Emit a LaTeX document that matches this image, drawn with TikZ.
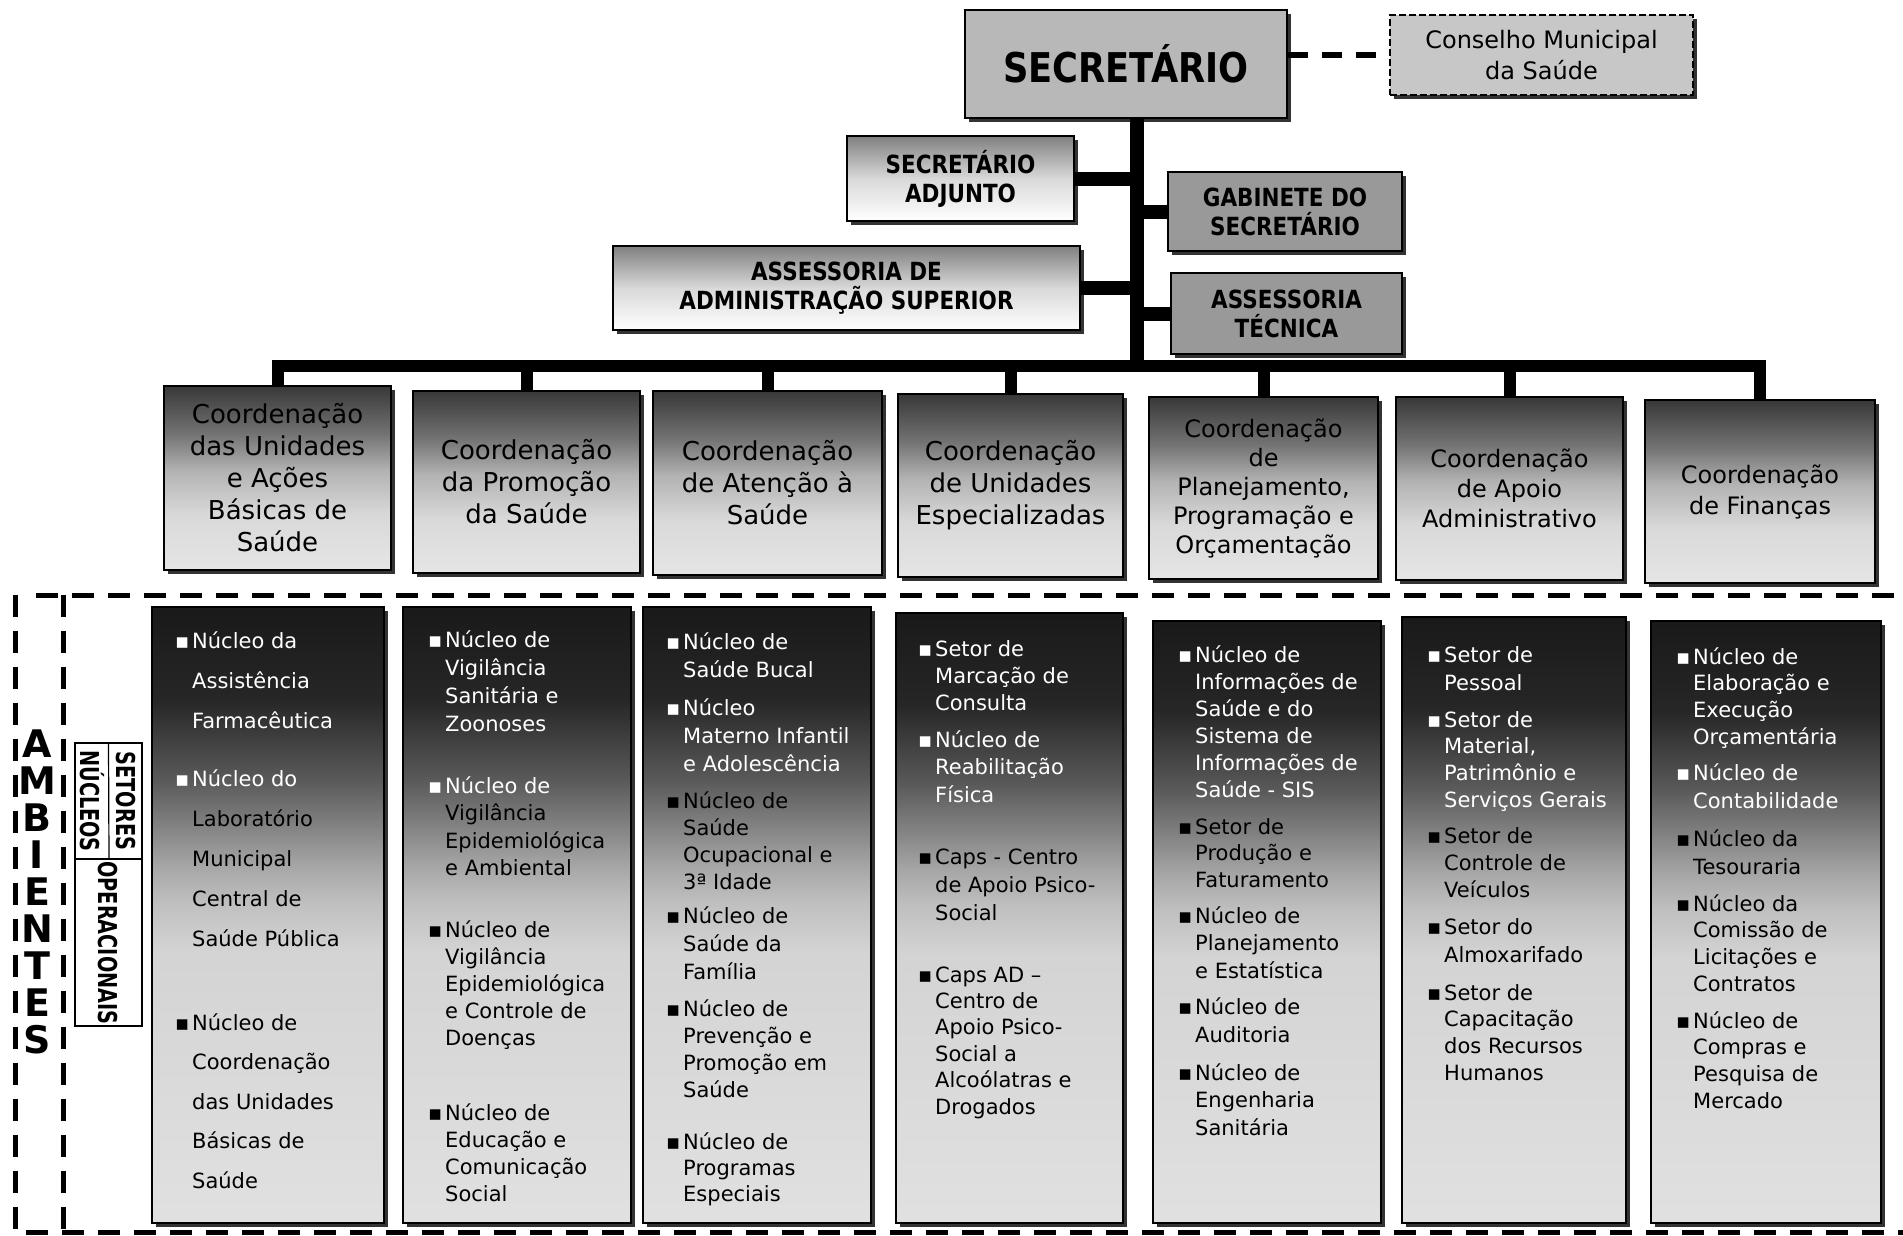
\documentclass[tikz,border=0pt]{standalone}
\usepackage{fontspec}
\setmainfont{DejaVu Sans}
\newfontfamily\cnd[FakeStretch=0.86]{DejaVu Sans}
\newfontfamily\cndx[FakeStretch=0.74]{DejaVu Sans}
\usetikzlibrary{shadows}

% TikZ maps a path onto the 25bp..75bp band of a 100bp shading
\pgfdeclareverticalshading{lowgrad}{100bp}{color(0bp)=(black!12); color(25bp)=(black!12); color(47bp)=(black!17); color(51bp)=(black!25); color(54bp)=(black!35); color(57bp)=(black!48); color(61bp)=(black!65); color(67.5bp)=(black!85); color(75bp)=(black!90); color(100bp)=(black!90)}
\pgfdeclareverticalshading{midgrad}{100bp}{color(0bp)=(black!10); color(25bp)=(black!10); color(40bp)=(black!15); color(52bp)=(black!30); color(62bp)=(black!55); color(75bp)=(black!78); color(100bp)=(black!78)}
\pgfdeclareverticalshading{topgrad}{100bp}{color(0bp)=(white); color(25bp)=(white); color(50bp)=(black!15); color(75bp)=(black!50); color(100bp)=(black!50)}

\newcommand\F[1]{\hbox{\makebox[17pt][l]{▪}#1}}
\newcommand\G[1]{\hbox{\hskip17pt #1}}
\newcommand\Gk[1]{\hbox{\hskip17pt \color{black}#1}}
\newcommand\VB[2]{\vtop{\baselineskip=#1pt\relax #2}}
\newcommand\VL[1]{\hbox to 44pt{\hfil #1\hfil}}

\tikzset{
  box/.style={draw=black, line width=1.6pt, inner sep=0pt, align=center,
    drop shadow={shadow xshift=4pt, shadow yshift=-4pt, opacity=1, fill=black!80}},
  lowbox/.style={box, shade, shading=lowgrad},
  midbox/.style={box, shade, shading=midgrad, font=\fontsize{26}{32}\selectfont},
  headbox/.style={box, font=\cnd\bfseries\fontsize{25}{29}\selectfont},
  trunk/.style={line width=14pt, black},
  busline/.style={line width=12pt, black, line join=miter},
  dashlink/.style={line width=6pt, dash pattern=on 20pt off 14pt},
  region/.style={line width=5pt, dash pattern=on 22pt off 14pt},
  it/.style={anchor=base west, inner sep=0pt, font=\fontsize{21}{27}\selectfont},
  itw/.style={it, text=white},
}

\begin{document}
\begin{tikzpicture}[x=1pt,y=-1pt]
\fill[white] (0,0) rectangle (1903,1236);
\useasboundingbox (0,0) rectangle (1903,1236);

% ---------- top level ----------
\node[box, fill=black!28, minimum width=322pt, minimum height=108pt,
      font=\cnd\bfseries\fontsize{41}{44}\selectfont] (sec) at (1126,64) {SECRETÁRIO};
\node[box, fill=black!22, dash pattern=on 7pt off 3pt, minimum width=303pt, minimum height=80pt,
      font=\fontsize{24}{31}\selectfont] (cons) at (1541.5,55) {Conselho Municipal\\da Saúde};
\node[headbox, shade, shading=topgrad, minimum width=227pt, minimum height=85pt] (adj) at (960.5,178.5) {SECRETÁRIO\\ADJUNTO};
\node[headbox, fill=black!40, minimum width=234pt, minimum height=79pt] (gab) at (1285,211.5) {GABINETE DO\\SECRETÁRIO};
\node[headbox, shade, shading=topgrad, minimum width=467pt, minimum height=84pt] (adm) at (846.5,288) {ASSESSORIA DE\\ADMINISTRAÇÃO SUPERIOR};
\node[headbox, fill=black!40, minimum width=231pt, minimum height=81pt] (tec) at (1286.5,313.5) {ASSESSORIA\\TÉCNICA};

% ---------- coordinations ----------
\node[midbox, minimum width=227pt, minimum height=184pt] (k1) at (277.5,478) {Coordenação\\das Unidades\\e Ações\\Básicas de\\Saúde};
\node[midbox, minimum width=227pt, minimum height=182pt] (k2) at (526.5,482) {Coordenação\\da Promoção\\da Saúde};
\node[midbox, minimum width=229pt, minimum height=184pt] (k3) at (767.5,483) {Coordenação\\de Atenção à\\Saúde};
\node[midbox, minimum width=225pt, minimum height=183pt] (k4) at (1010.5,485.5) {Coordenação\\de Unidades\\Especializadas};
\node[midbox, minimum width=229pt, minimum height=182pt, font=\fontsize{24}{29}\selectfont] (k5) at (1263.5,488) {Coordenação\\de\\Planejamento,\\Programação e\\Orçamentação};
\node[midbox, minimum width=227pt, minimum height=183pt, font=\fontsize{24}{30}\selectfont] (k6) at (1509.5,488.5) {Coordenação\\de Apoio\\Administrativo};
\node[midbox, minimum width=230pt, minimum height=183pt, font=\fontsize{24}{31}\selectfont] (k7) at (1760,491.5) {Coordenação\\de Finanças};

% ---------- connectors ----------
\coordinate (tk) at (1137,366);
\draw[dashlink] (cons.west -| sec.east) -- (cons.west);
\draw[trunk] (tk |- sec.south) -- (tk);
\draw[trunk] (adj.east) -- (adj.east -| tk);
\draw[trunk] (gab.west) -- (gab.west -| tk);
\draw[trunk] (adm.east) -- (adm.east -| tk);
\draw[trunk] (tec.west) -- (tec.west -| tk);
\draw[busline] (k1.north) -- (k1.north |- tk) -- (k7.north |- tk) -- (k7.north);
\foreach \k in {k2,k3,k4,k5,k6} { \draw[busline] (\k.north |- tk) -- (\k.north); }

% ---------- environments frame ----------
\draw[region] (36,595) -- (1903,595);
\draw[region] (63,595) -- (63,1236);
\draw[region] (15,595) -- (15,1232) -- (1903,1232);

\node[anchor=base, inner sep=0pt, font=\bfseries\fontsize{38}{37}\selectfont] (amb) at (37,757)
  {\VB{37}{\VL{A}\VL{M}\VL{B}\VL{I}\VL{E}\VL{N}\VL{T}\VL{E}\VL{S}}};

\node[draw=black, line width=1.2pt, minimum width=67pt, minimum height=283pt, inner sep=0pt] (opb) at (108.5,884.5) {};
\coordinate (opd) at (109,859);
\draw[line width=1.2pt] (opb.north) -- (opd);
\draw[line width=1.2pt] (opb.west |- opd) -- (opb.east |- opd);
\node[rotate=-90, inner sep=0pt, font=\cndx\bfseries\fontsize{26}{26}\selectfont] (nuc) at (92,801) {NÚCLEOS};
\node[rotate=-90, inner sep=0pt, font=\cndx\bfseries\fontsize{26}{26}\selectfont] (set) at (125.5,801) {SETORES};
\node[rotate=-90, inner sep=0pt, font=\cndx\bfseries\fontsize{26}{26}\selectfont] (ope) at (108,943) {OPERACIONAIS};

% ---------- operational columns ----------
\node[lowbox, minimum width=232pt, minimum height=616pt] (l1) at (268,915) {};
\node[lowbox, minimum width=228pt, minimum height=616pt] (l2) at (517,915) {};
\node[lowbox, minimum width=228pt, minimum height=616pt] (l3) at (757,915) {};
\node[lowbox, minimum width=227pt, minimum height=610pt] (l4) at (1009.5,918) {};
\node[lowbox, minimum width=228pt, minimum height=602pt] (l5) at (1267,922) {};
\node[lowbox, minimum width=224pt, minimum height=606pt] (l6) at (1514,920) {};
\node[lowbox, minimum width=230pt, minimum height=602pt] (l7) at (1766,922) {};

% column 1
\node[itw] (a1) at (175,648) {\VB{40}{\F{Núcleo da}\G{Assistência}\G{Farmacêutica}}};
\node[itw] (a2) at (175,786) {\VB{40}{\F{Núcleo do}\Gk{Laboratório}\Gk{Municipal}\Gk{Central de}\Gk{Saúde Pública}}};
\node[it] (a3) at (175,1030) {\VB{39.5}{\F{Núcleo de}\G{Coordenação}\G{das Unidades}\G{Básicas de}\G{Saúde}}};
% column 2
\node[itw] (b1) at (428,647) {\VB{28}{\F{Núcleo de}\G{Vigilância}\G{Sanitária e}\G{Zoonoses}}};
\node[itw] (b2) at (428,793) {\VB{27.5}{\F{Núcleo de}\Gk{Vigilância}\Gk{Epidemiológica}\Gk{e Ambiental}}};
\node[it] (b3) at (428,937) {\VB{27}{\F{Núcleo de}\G{Vigilância}\G{Epidemiológica}\G{e Controle de}\G{Doenças}}};
\node[it] (b4) at (428,1120) {\VB{27}{\F{Núcleo de}\G{Educação e}\G{Comunicação}\G{Social}}};
% column 3
\node[itw] (c1) at (666,649) {\VB{28}{\F{Núcleo de}\G{Saúde Bucal}}};
\node[itw] (c2) at (666,715) {\VB{28}{\F{Núcleo}\G{Materno Infantil}\G{e Adolescência}}};
\node[it] (c3) at (666,808) {\VB{27}{\F{Núcleo de}\G{Saúde}\G{Ocupacional e}\G{3ª Idade}}};
\node[it] (c4) at (666,923) {\VB{28}{\F{Núcleo de}\G{Saúde da}\G{Família}}};
\node[it] (c5) at (666,1016) {\VB{27}{\F{Núcleo de}\G{Prevenção e}\G{Promoção em}\G{Saúde}}};
\node[it] (c6) at (666,1149) {\VB{26}{\F{Núcleo de}\G{Programas}\G{Especiais}}};
% column 4
\node[itw] (d1) at (918,656) {\VB{27}{\F{Setor de}\G{Marcação de}\G{Consulta}}};
\node[itw] (d2) at (918,747) {\VB{27.5}{\F{Núcleo de}\G{Reabilitação}\G{Física}}};
\node[it] (d3) at (918,864) {\VB{28}{\F{Caps - Centro}\G{de Apoio Psico-}\G{Social}}};
\node[it] (d4) at (918,982) {\VB{26.4}{\F{Caps AD –}\G{Centro de}\G{Apoio Psico-}\G{Social a}\G{Alcoólatras e}\G{Drogados}}};
% column 5
\node[itw] (e1) at (1178,662) {\VB{27}{\F{Núcleo de}\G{Informações de}\G{Saúde e do}\G{Sistema de}\G{Informações de}\G{Saúde - SIS}}};
\node[it] (e2) at (1178,834) {\VB{26.5}{\F{Setor de}\G{Produção e}\G{Faturamento}}};
\node[it] (e3) at (1178,923) {\VB{27.5}{\F{Núcleo de}\G{Planejamento}\G{e Estatística}}};
\node[it] (e4) at (1178,1014) {\VB{28}{\F{Núcleo de}\G{Auditoria}}};
\node[it] (e5) at (1178,1080) {\VB{27.5}{\F{Núcleo de}\G{Engenharia}\G{Sanitária}}};
% column 6
\node[itw] (f1) at (1427,662) {\VB{28}{\F{Setor de}\G{Pessoal}}};
\node[itw] (f2) at (1427,727) {\VB{26.7}{\F{Setor de}\G{Material,}\G{Patrimônio e}\G{Serviços Gerais}}};
\node[it] (f3) at (1427,843) {\VB{27}{\F{Setor de}\G{Controle de}\G{Veículos}}};
\node[it] (f4) at (1427,934) {\VB{28}{\F{Setor do}\G{Almoxarifado}}};
\node[it] (f5) at (1427,1000) {\VB{26.7}{\F{Setor de}\G{Capacitação}\G{dos Recursos}\G{Humanos}}};
% column 7
\node[itw] (g1) at (1676,664) {\VB{26.7}{\F{Núcleo de}\G{Elaboração e}\G{Execução}\G{Orçamentária}}};
\node[itw] (g2) at (1676,780) {\VB{28}{\F{Núcleo de}\G{Contabilidade}}};
\node[it] (g3) at (1676,846) {\VB{28}{\F{Núcleo da}\G{Tesouraria}}};
\node[it] (g4) at (1676,911) {\VB{26.7}{\F{Núcleo da}\G{Comissão de}\G{Licitações e}\G{Contratos}}};
\node[it] (g5) at (1676,1028) {\VB{26.7}{\F{Núcleo de}\G{Compras e}\G{Pesquisa de}\G{Mercado}}};
\end{tikzpicture}
\end{document}
